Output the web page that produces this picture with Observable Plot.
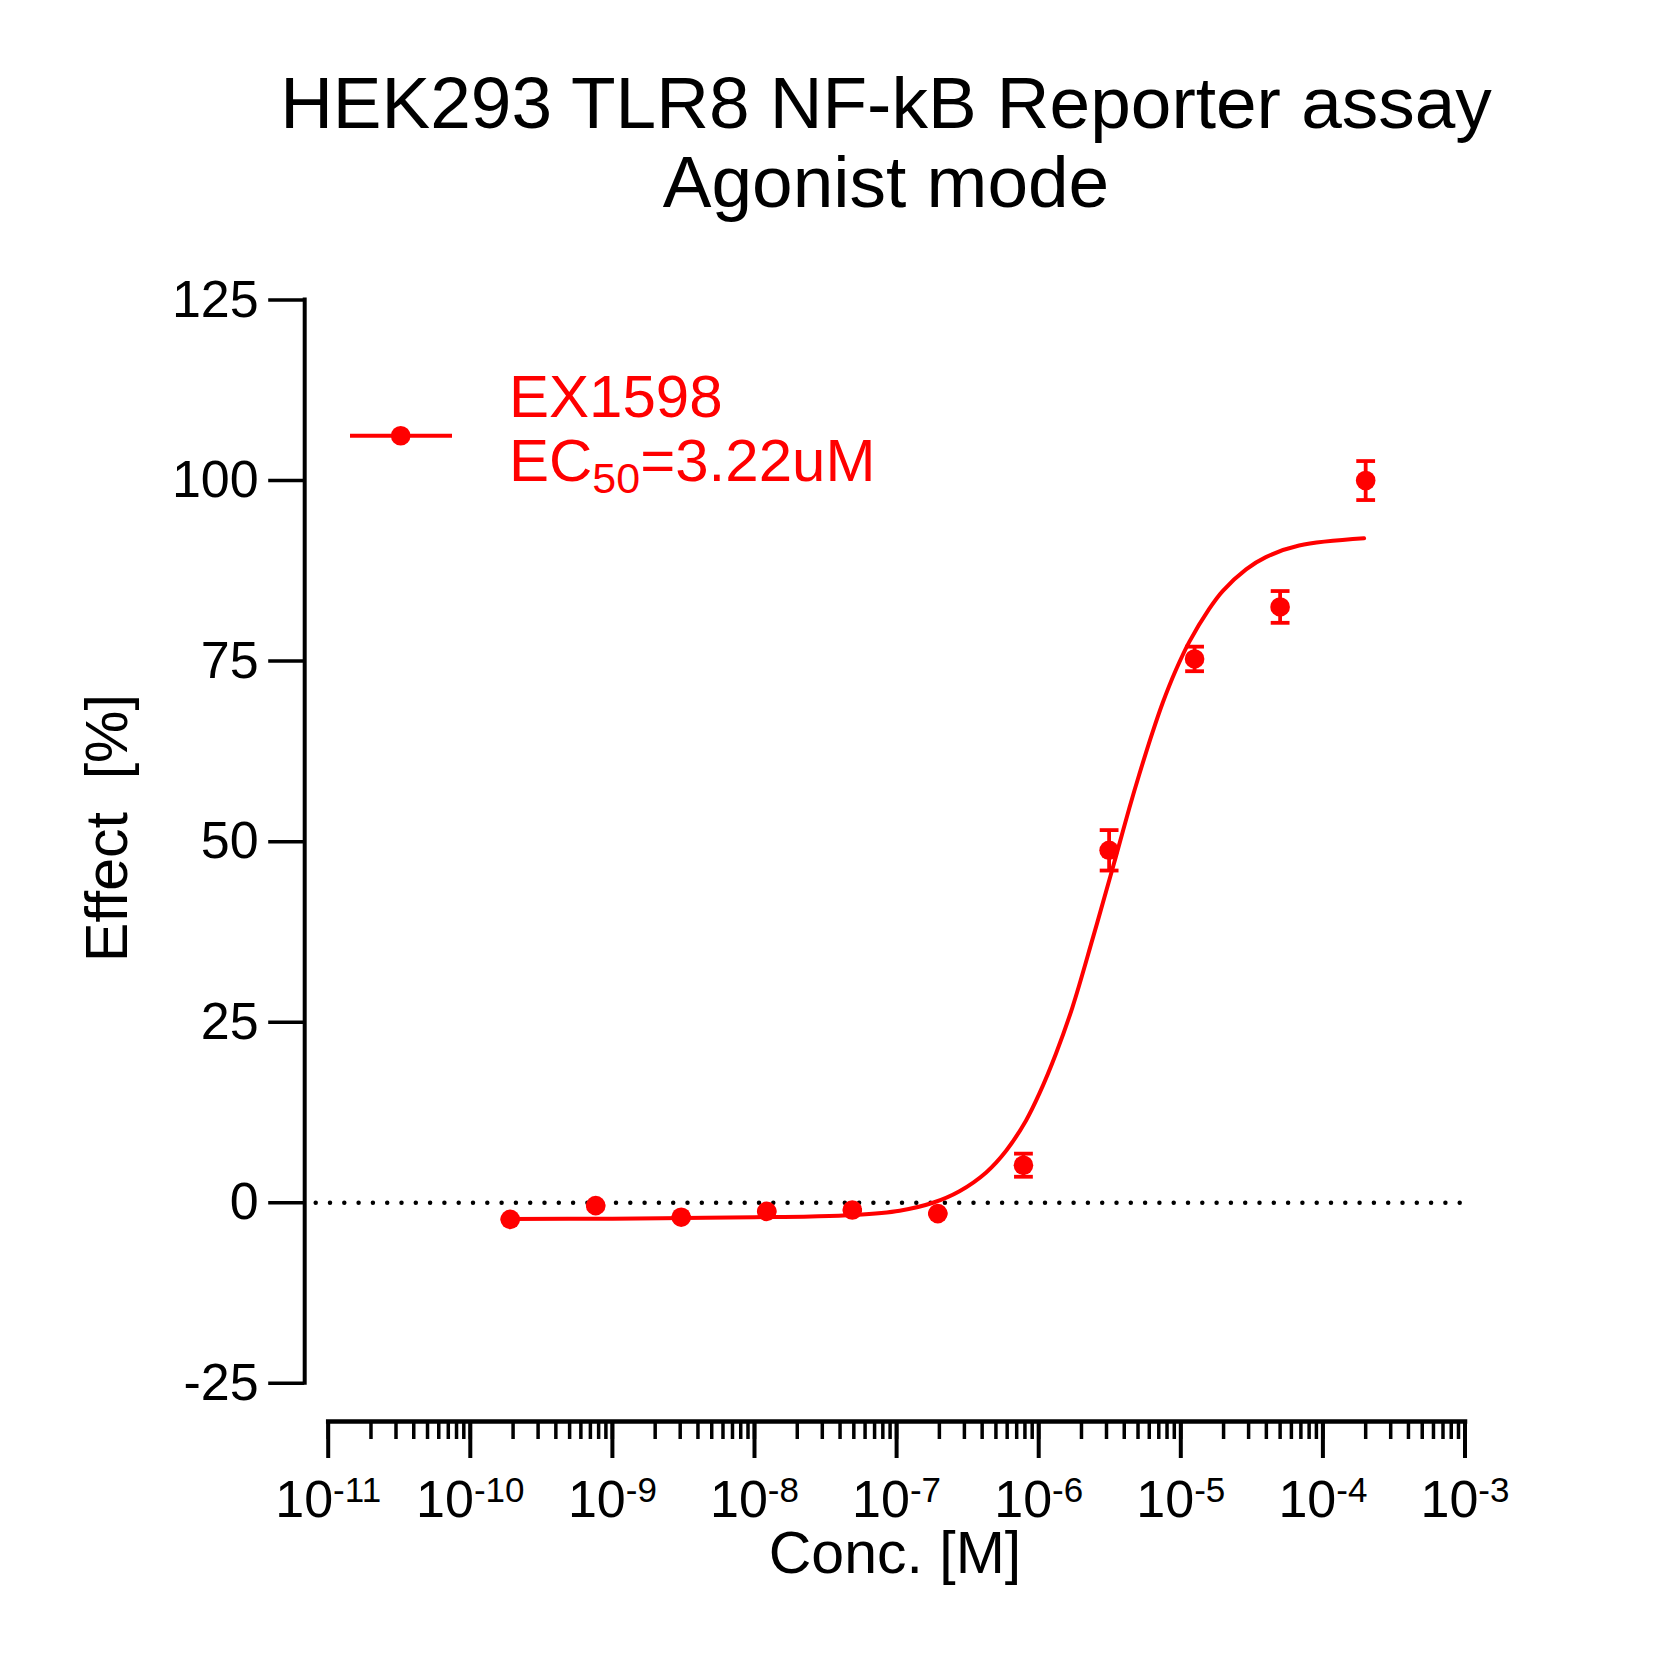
<!DOCTYPE html>
<html><head><meta charset="utf-8">
<script src="https://cdn.jsdelivr.net/npm/d3@7"></script>
<script src="https://cdn.jsdelivr.net/npm/@observablehq/plot@0.6"></script>
<style>
html,body{margin:0;padding:0;background:#fff;}
#wrap{position:relative;width:1655px;height:1655px;font-family:"Liberation Sans",Arial,sans-serif;}
#wrap svg{position:absolute;left:0;top:0;}
</style></head><body><div id="wrap"></div>
<script>
// ---- data ----
const seriesName = "EX1598";
const ec50Label = "=3.22uM";
const conc   = [1.91e-10, 7.63e-10, 3.05e-9, 1.22e-8, 4.88e-8, 1.95e-7, 7.81e-7, 3.13e-6, 1.25e-5, 5.0e-5, 2.0e-4];
const effect = [-2.3, -0.4, -2.0, -1.2, -1.0, -1.5, 5.2, 48.8, 75.3, 82.5, 100.0];
const errors = [0, 0, 0, 0, 0, 0, 1.6, 2.8, 1.7, 2.2, 2.7];
// fitted curve
const curveConc = [1.9e-10, 1.0e-9, 3.2e-9, 1.0e-8, 2.5e-8, 5.0e-8, 1.05e-7, 1.8e-7, 2.77e-7, 4.27e-7, 5.9e-7, 8.15e-7, 1.01e-6, 1.32e-6, 1.73e-6, 2.4e-6, 3.14e-6, 3.5e-6, 4.35e-6, 5.1e-6, 6.34e-6, 7.45e-6, 9.25e-6, 1.15e-5, 1.58e-5, 1.97e-5, 2.88e-5, 3.97e-5, 6.8e-5, 1.95e-4];
const curveEffect = [-2.25, -2.2, -2.1, -2.0, -1.9, -1.7, -1.1, 0.0, 1.6, 4.2, 7.2, 11.4, 15.1, 20.6, 27.1, 36.6, 44.7, 48.0, 54.7, 59.3, 65.2, 69.2, 73.8, 77.7, 82.2, 84.7, 87.7, 89.4, 91.0, 92.0];
const xDomain = [1e-11, 1e-3];
const xMajorTicks = [1e-11, 1e-10, 1e-9, 1e-8, 1e-7, 1e-6, 1e-5, 1e-4, 1e-3];
const yDomain = [-25, 125];
const yTicks = [-25, 0, 25, 50, 75, 100, 125];
const titleLines = ["HEK293 TLR8 NF-kB Reporter assay", "Agonist mode"];
const xLabel = "Conc. [M]";
const yLabel = "Effect  [%]";

const RED = "#ff0000";
const FONT = '"Liberation Sans", Arial, Helvetica, sans-serif';

const table = conc.map((c, i) => ({conc: c, effect: effect[i], err: errors[i]}));
const curve = curveConc.map((c, i) => ({conc: c, effect: curveEffect[i]}));

const capSymbol = {
  draw(context, size) {
    const h = Math.sqrt(size / Math.PI);
    context.moveTo(-h, 0);
    context.lineTo(h, 0);
  }
};

const chart = Plot.plot({
  width: 1655,
  height: 1655,
  marginTop: 299.5,
  marginBottom: 234,
  marginLeft: 327.7,
  marginRight: 190.5,
  style: {fontFamily: FONT, background: "white", color: "black"},
  x: {type: "log", domain: xDomain},
  y: {domain: yDomain, range: [1382.8, 299.5]},
  marks: [
    // dotted zero line
    Plot.ruleY([0], {stroke: "black", strokeWidth: 4.5, strokeDasharray: "0 14.3", strokeLinecap: "round", insetLeft: -12}),
    // y axis line (offset left of the x range)
    Plot.ruleX([xDomain[0]], {y1: yDomain[0], y2: yDomain[1], dx: -23.5, stroke: "black", strokeWidth: 4, strokeLinecap: "square"}),
    Plot.axisY({ticks: yTicks, tickSize: 36, tickPadding: 10, dx: -23.5, fontSize: 52, strokeWidth: 3.5, label: null, tickFormat: d => String(d)}),
    // x axis line
    Plot.frame({anchor: "bottom", stroke: "black", strokeWidth: 4.5, strokeLinecap: "square"}),
    // minor ticks from the log scale (labels removed below)
    Plot.axisX({tickSize: 18, strokeWidth: 3.5, tickFormat: () => "", label: null}),
    // major ticks
    Plot.axisX(xMajorTicks, {tickSize: 37, strokeWidth: 4, tickPadding: 22, fontSize: 52, label: null,
      tickFormat: d => String(Math.round(Math.log10(d)))}),
    // fitted curve
    Plot.line(curve, {x: "conc", y: "effect", stroke: RED, strokeWidth: 4, curve: "catmull-rom"}),
    // error bars
    Plot.ruleX(table, {x: "conc", y1: d => d.effect - d.err, y2: d => d.effect + d.err, stroke: RED, strokeWidth: 3.8}),
    Plot.dot(table, {x: "conc", y: d => d.effect + d.err, symbol: capSymbol, r: 9.4, stroke: RED, strokeWidth: 3.8, fill: "none"}),
    Plot.dot(table, {x: "conc", y: d => d.effect - d.err, symbol: capSymbol, r: 9.4, stroke: RED, strokeWidth: 3.8, fill: "none"}),
    // points
    Plot.dot(table, {x: "conc", y: "effect", r: 9.8, fill: RED, stroke: "none"})
  ]
});

// remove the empty labels of the minor-tick axis, then superscript the exponents
const labelGroups = d3.select(chart).selectAll('g[aria-label="x-axis tick label"]');
labelGroups.each(function() {
  const g = d3.select(this);
  const texts = g.selectAll("text");
  const allEmpty = texts.nodes().every(n => n.textContent.trim() === "");
  if (allEmpty) { g.remove(); return; }
  texts.each(function() {
    const t = d3.select(this);
    const exp = t.text();
    t.text(null);
    t.append("tspan").text("10");
    t.append("tspan").attr("dy", -15).attr("font-size", 35).text(exp);
  });
});

const wrap = document.getElementById("wrap");
wrap.appendChild(chart);

// overlay: title, axis labels, legend
const ov = d3.select(wrap).append("svg")
  .attr("width", 1655).attr("height", 1655)
  .style("pointer-events", "none")
  .attr("font-family", FONT);

ov.append("text").attr("x", 886).attr("y", 128.3).attr("text-anchor", "middle").attr("font-size", 73).attr("fill", "black").text(titleLines[0]);
ov.append("text").attr("x", 886).attr("y", 206.7).attr("text-anchor", "middle").attr("font-size", 73).attr("fill", "black").text(titleLines[1]);

ov.append("text").attr("x", 895).attr("y", 1573).attr("text-anchor", "middle").attr("font-size", 59).attr("fill", "black").text(xLabel);
ov.append("text").attr("transform", "translate(127,828) rotate(-90)").attr("text-anchor", "middle").attr("font-size", 59).attr("fill", "black").attr("xml:space", "preserve").style("white-space", "pre").text(yLabel);

// legend
ov.append("line").attr("x1", 350).attr("x2", 452).attr("y1", 435.7).attr("y2", 435.7).attr("stroke", RED).attr("stroke-width", 4);
ov.append("circle").attr("cx", 400.7).attr("cy", 435.7).attr("r", 9.8).attr("fill", RED);
ov.append("text").attr("x", 509).attr("y", 417.3).attr("font-size", 60).attr("fill", RED).text(seriesName);
const ec = ov.append("text").attr("x", 509).attr("y", 480.7).attr("font-size", 60).attr("fill", RED);
ec.append("tspan").text("EC");
ec.append("tspan").attr("dy", 12.6).attr("font-size", 43).text("50");
ec.append("tspan").attr("dy", -12.6).text(ec50Label);
</script>
</body></html>
